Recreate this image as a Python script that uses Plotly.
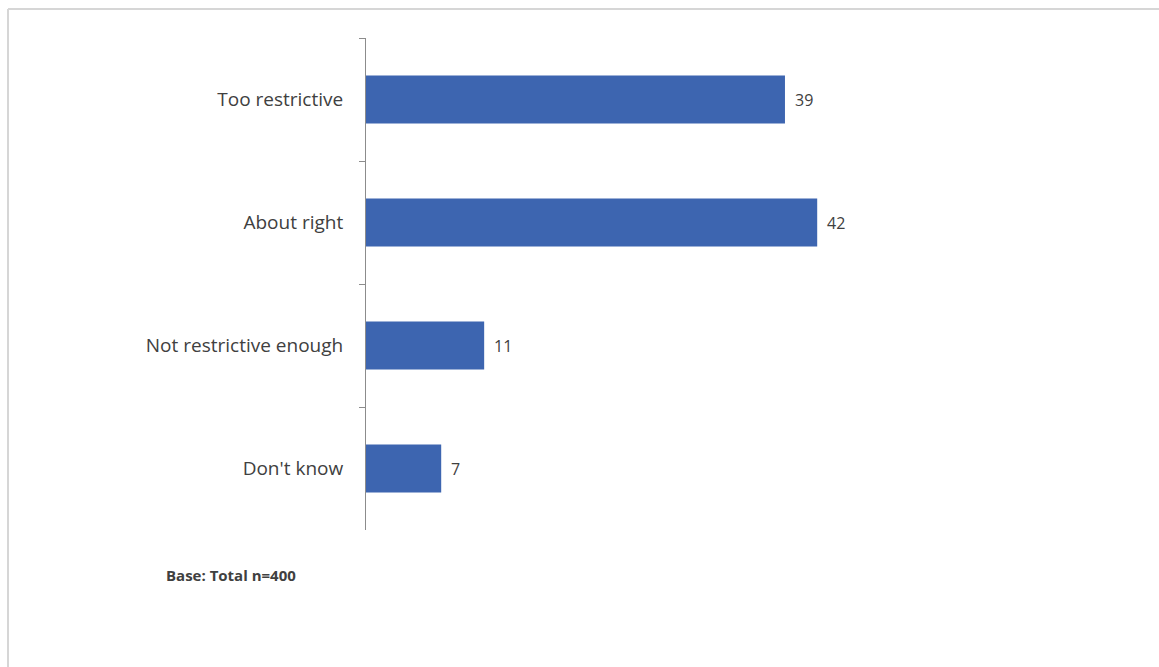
import plotly.graph_objects as go

categories = ["Too restrictive", "About right", "Not restrictive enough", "Don't know"]
values = [39, 42, 11, 7]
base_note = "Base: Total n=400"

W, H = 1159, 667
L, R, T, B = 366, 41, 38, 137
X_MAX = 70

bar_color = "#3D65B0"
text_color = "#404040"
font_family = "'Open Sans', Lato, sans-serif"

fig = go.Figure(
    go.Bar(
        x=values,
        y=categories,
        orientation="h",
        marker=dict(color=bar_color, line=dict(width=0)),
        width=0.39,
        hoverinfo="skip",
    )
)

# value labels just to the right of each bar end
for cat, val in zip(categories, values):
    fig.add_annotation(
        x=val, y=cat, xref="x", yref="y",
        text=str(val), showarrow=False,
        xanchor="left", xshift=8,
        font=dict(family=font_family, size=16, color=text_color),
    )

plot_w = W - L - R
plot_h = H - T - B

def px_to_paper_x(px):
    return (px - L) / plot_w

def py_to_paper_y(py):
    return 1 - (py - T) / plot_h

fig.add_annotation(
    x=px_to_paper_x(164), y=py_to_paper_y(575), xref="paper", yref="paper",
    text="<b>" + base_note + "</b>", showarrow=False,
    xanchor="left", yanchor="middle",
    font=dict(family=font_family, size=15, color=text_color),
)

# light frame running along the top and left edges
frame = dict(type="line", xref="paper", yref="paper",
             line=dict(color="#d6d6d6", width=2), layer="below")
fig.add_shape(**frame, x0=px_to_paper_x(8), x1=px_to_paper_x(W + 5),
              y0=py_to_paper_y(9), y1=py_to_paper_y(9))
fig.add_shape(**frame, x0=px_to_paper_x(8), x1=px_to_paper_x(8),
              y0=py_to_paper_y(9), y1=py_to_paper_y(H + 5))

fig.update_layout(
    width=W, height=H,
    margin=dict(l=L, r=R, t=T, b=B, pad=0),
    paper_bgcolor="white",
    plot_bgcolor="white",
    showlegend=False,
    font=dict(family=font_family, color=text_color),
    xaxis=dict(
        range=[0, X_MAX], visible=False, showgrid=False, zeroline=False,
    ),
    yaxis=dict(
        autorange="reversed",
        showline=True, linecolor="#8c8c8c", linewidth=1,
        ticks="outside", ticklen=6, tickcolor="#8c8c8c",
        tickson="boundaries",
        ticklabelstandoff=18,
        showgrid=False, zeroline=False,
        tickfont=dict(family=font_family, size=19, color=text_color),
    ),
)

fig.write_html("out.html")
